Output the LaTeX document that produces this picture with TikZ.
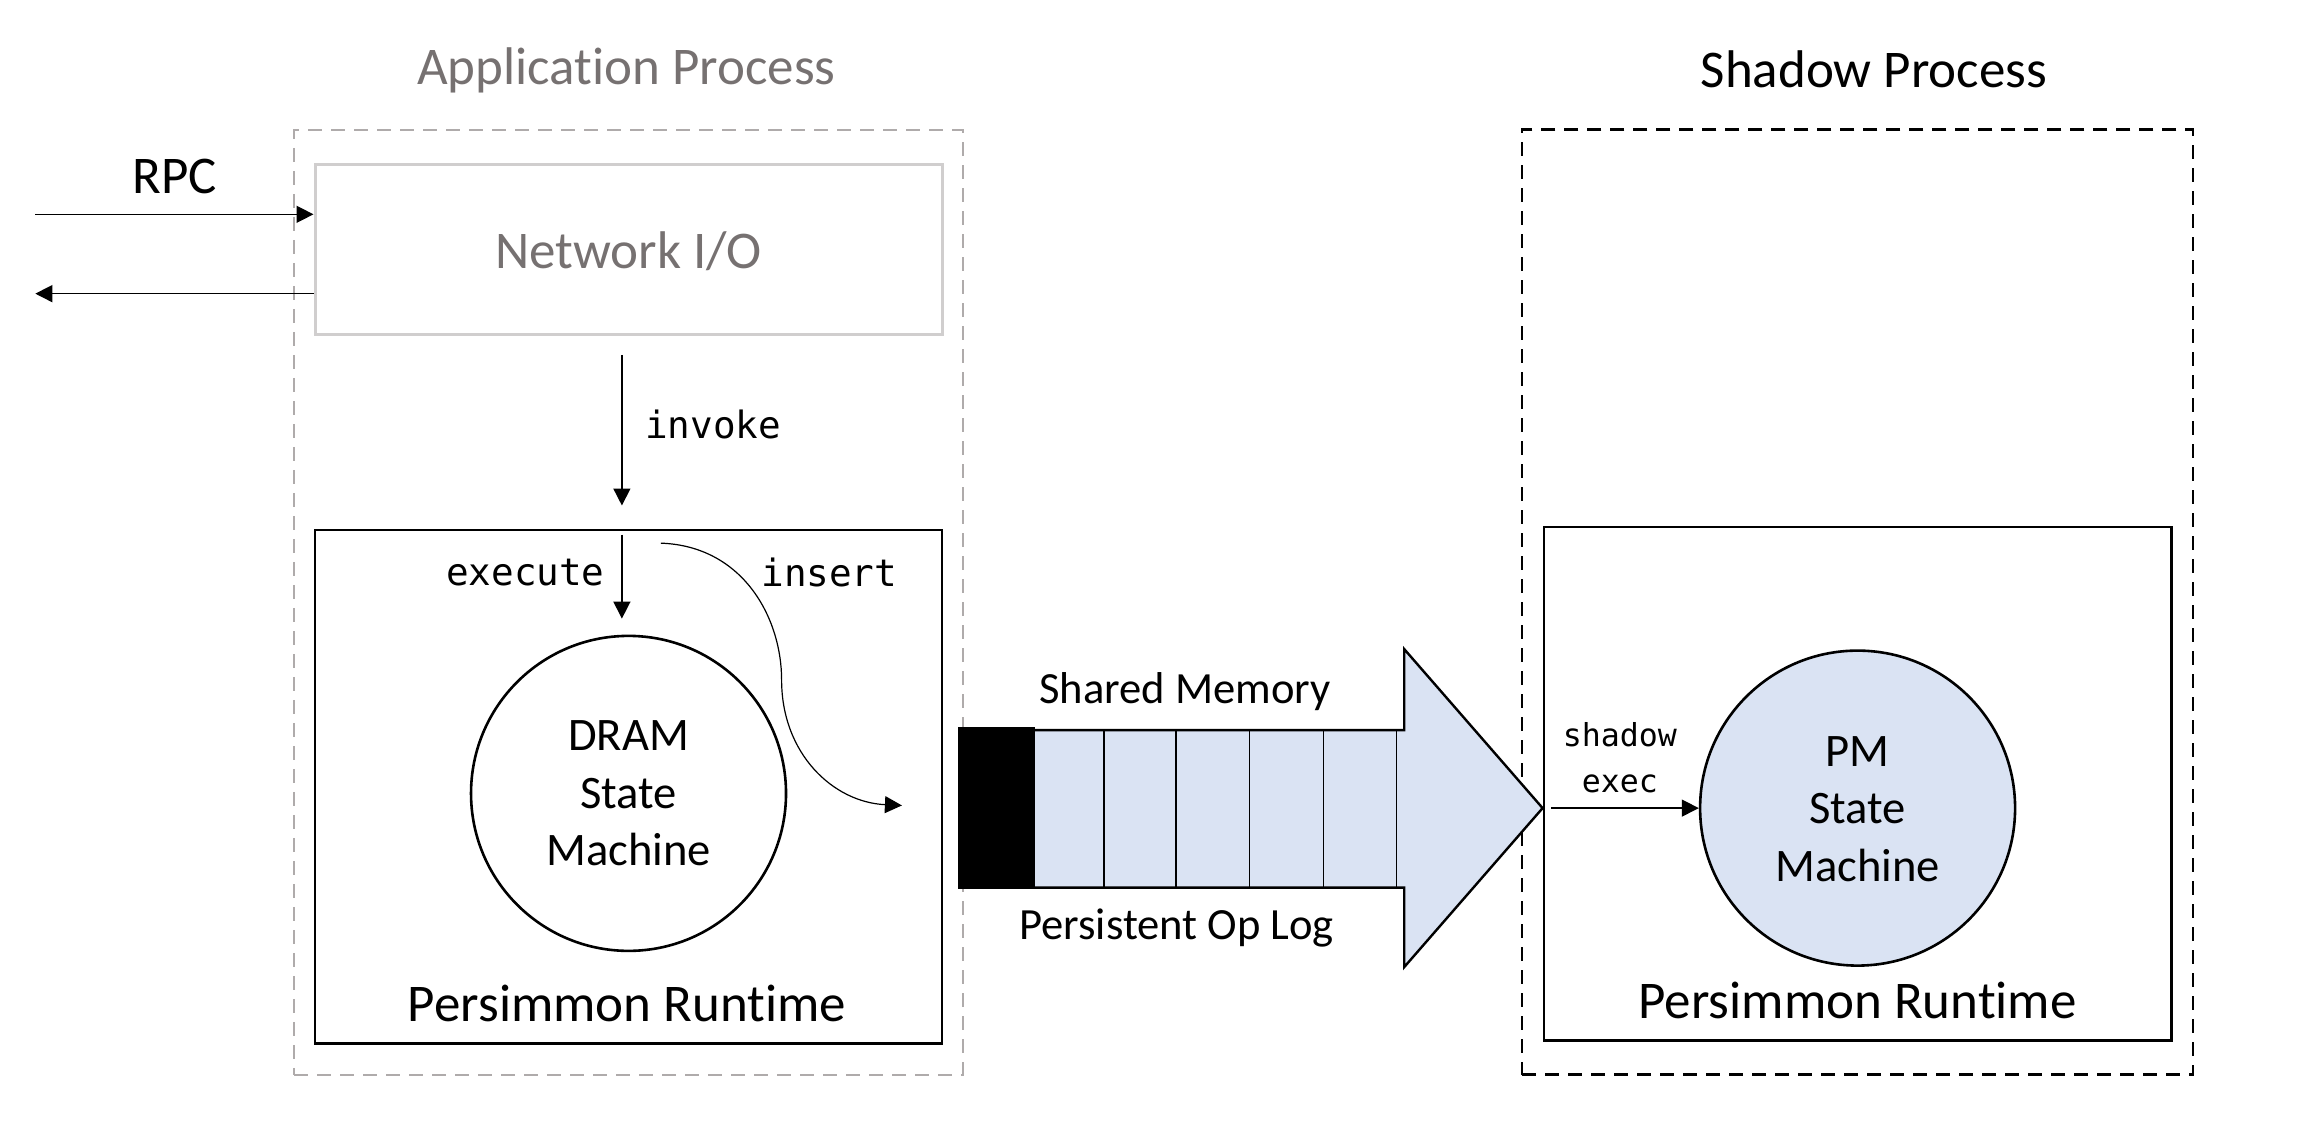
\documentclass[tikz,border=0pt]{standalone}
\usepackage{fontspec}
\setmainfont{Carlito}[Ligatures=NoCommon]
\newfontfamily\monof{DejaVu Sans Mono}
\usetikzlibrary{arrows.meta,fit}
\definecolor{logblue}{HTML}{DAE3F3}
\definecolor{txtgray}{HTML}{767171}
\definecolor{dashgray}{HTML}{AFABAB}
\definecolor{netgray}{HTML}{D0CECE}
\begin{document}
\begin{tikzpicture}[x=0.736pt,y=-0.736pt,
  arr/.style={line width=0.75pt,-{Triangle[length=8.5pt,width=8.5pt]}},
  boxline/.style={draw,line width=1.4pt,inner sep=0pt},
  titlefont/.style={inner sep=0pt,font=\fontsize{26.5}{30}\selectfont},
  labfont/.style={inner sep=0pt,font=\fontsize{23.3}{28.7}\selectfont},
  logfont/.style={inner sep=0pt,font=\fontsize{22.3}{26}\selectfont},
  monofont/.style={inner sep=0pt,font=\monof\fontsize{18.8}{22}\selectfont},
  smallmono/.style={inner sep=0pt,font=\monof\fontsize{15.8}{23}\selectfont},
  procbox/.style={inner sep=0pt,line width=1pt,dash pattern=on 7pt off 4.5pt}]
\useasboundingbox (0,0) rectangle (1568,765);

% titles
\node[titlefont,text=txtgray] (apptitle) at (425.5,47.5) {Application Process};
\node[titlefont] (shtitle) at (1273,47) {Shadow Process};

% process boxes
\node[procbox,draw=dashgray,fit={(200,88) (654,730)}] (app) {};
\node[procbox,draw=black,line width=1.2pt,fit={(1034,88) (1490,730)}] (shadow) {};

% network I/O
\node[inner sep=0pt,draw=netgray,line width=1.5pt,fit={(214,112) (640,227)}] (net) {};
\node[titlefont,text=txtgray] (netlabel) at (427,170.5) {Network I/O};

% runtimes
\node[boxline,fit={(214,360) (640,709)}] (rt1) {};
\node[boxline,fit={(1049,358) (1475.5,707)}] (rt2) {};
\node[titlefont] (rt1label) at (426,681.5) {Persimmon Runtime};
\node[titlefont] (rt2label) at (1262,680) {Persimmon Runtime};

% state machines
\node[circle,draw,line width=1.3pt,minimum size=157.5pt,inner sep=0pt] (dram) at (427,539) {};
\node[labfont,align=center] (dramlabel) at (427,539) {DRAM\\State\\Machine};
\node[circle,draw,fill=logblue,line width=1.3pt,minimum size=157.5pt,inner sep=0pt] (pm) at (1262,549) {};
\node[labfont,align=center] (pmlabel) at (1262,549.5) {PM\\State\\Machine};

% RPC
\node[titlefont] (rpc) at (118.7,119.6) {RPC};
\coordinate (rpcin) at (24,145.6);
\coordinate (rpcout) at (24,199.5);
\draw[arr] (rpcin) -- (rpcin -| net.west);
\draw[arr] (rpcout -| net.west) -- (rpcout);

% invoke / execute
\coordinate (col) at (422.5,0);
\draw[arr,shorten <=9.6pt,shorten >=11.5pt] (net.south -| col) -- (rt1.north -| col);
\node[monofont,anchor=west] (invoke) at (438,288.5) {invoke};
\draw[arr,shorten <=3pt,shorten >=8pt] (rt1.north -| col) -- (dram.north -| col);
\node[monofont,anchor=east] (execute) at (411,389) {execute};

% log
\coordinate (logtip) at (1048,549);
\fill[logblue] (703,496) -- (954,496) -- (954,441) -- (logtip) -- (954,657) -- (954,603) -- (703,603) -- cycle;
\foreach \x in {750,799,849,899,949} \draw[line width=0.6pt] (\x,496) -- (\x,603);
\draw[line width=1.2pt,line join=miter] (703,496) -- (954,496) -- (954,441) -- (logtip) -- (954,657) -- (954,603) -- (703,603);
\node[inner sep=0pt,fill=black,fit={(651,494) (703,604)}] (logblack) {};
\node[logfont] (shm) at (805,470) {Shared Memory};
\node[logfont] (oplog) at (799.4,630.5) {Persistent Op Log};

% insert
\coordinate (insstart) at (449,369);
\draw[line width=0.6pt,-{Triangle[length=8.5pt,width=8.5pt]},shorten >=28pt] (insstart) .. controls (505,371) and (531,420) .. (531,462) .. controls (531,512) and (566,545) .. (logblack.west);
\node[monofont,anchor=west] (insert) at (517,388.6) {insert};

% shadow exec
\draw[arr,shorten <=4.4pt] (logtip) -- (pm);
\node[smallmono,align=center] (shexec) at (1100.5,514.5) {shadow\\exec};
\end{tikzpicture}
\end{document}
